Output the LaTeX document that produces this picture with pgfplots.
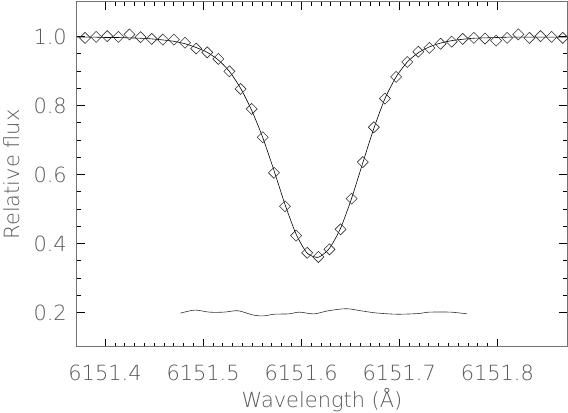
\documentclass[border=0pt]{standalone}
\usepackage{pgfplots}
\pgfplotsset{compat=1.18}
\usepackage{fontspec}
\setmainfont{DejaVu Sans ExtraLight}
\usepackage{pgfplotstable}

% observed spectrum (diamonds)
\pgfplotstableread{
x y
6151.3796 0.996
6151.3909 0.999
6151.4022 1.001
6151.4136 0.999
6151.4249 1.006
6151.4362 0.998
6151.4476 0.993
6151.4589 0.991
6151.4702 0.991
6151.4815 0.982
6151.4929 0.965
6151.5042 0.954
6151.5155 0.935
6151.5268 0.899
6151.5382 0.848
6151.5495 0.790
6151.5608 0.708
6151.5722 0.605
6151.5835 0.508
6151.5948 0.423
6151.6061 0.373
6151.6175 0.361
6151.6288 0.383
6151.6401 0.441
6151.6514 0.530
6151.6628 0.636
6151.6741 0.737
6151.6854 0.820
6151.6968 0.883
6151.7081 0.926
6151.7194 0.956
6151.7307 0.967
6151.7421 0.979
6151.7534 0.985
6151.7647 0.993
6151.7760 0.996
6151.7874 0.994
6151.7987 0.988
6151.8100 0.996
6151.8214 1.006
6151.8327 0.996
6151.8440 1.001
6151.8553 0.999
6151.8667 0.996
}\obs

% synthetic fit (line)
\pgfplotstableread{
x y
6151.3714 0.998
6151.3796 0.998
6151.3909 0.998
6151.4022 0.997
6151.4136 0.997
6151.4249 0.996
6151.4362 0.995
6151.4476 0.993
6151.4589 0.990
6151.4702 0.986
6151.4815 0.979
6151.4929 0.968
6151.5042 0.954
6151.5155 0.932
6151.5268 0.899
6151.5382 0.850
6151.5495 0.786
6151.5608 0.707
6151.5722 0.612
6151.5835 0.513
6151.5948 0.427
6151.6061 0.372
6151.6175 0.360
6151.6288 0.386
6151.6401 0.444
6151.6514 0.531
6151.6628 0.634
6151.6741 0.734
6151.6854 0.820
6151.6968 0.883
6151.7081 0.926
6151.7194 0.953
6151.7307 0.970
6151.7421 0.981
6151.7534 0.988
6151.7647 0.992
6151.7760 0.995
6151.7874 0.996
6151.7987 0.997
6151.8100 0.998
6151.8440 0.998
6151.8710 0.998
}\fit

% residuals (shifted to 0.2)
\pgfplotstableread{
x y
6151.4768 0.198
6151.4915 0.207
6151.5063 0.201
6151.5210 0.201
6151.5357 0.205
6151.5504 0.193
6151.5614 0.190
6151.5724 0.195
6151.5871 0.196
6151.5982 0.201
6151.6129 0.196
6151.6276 0.205
6151.6460 0.211
6151.6607 0.205
6151.6754 0.199
6151.6974 0.195
6151.7195 0.197
6151.7305 0.201
6151.7526 0.201
6151.7691 0.196
}\resid

\begin{document}
\begin{tikzpicture}
\begin{axis}[
    name=ax,
    width=490bp, height=345bp, scale only axis,
    xmin=6151.3714, xmax=6151.871,
    ymin=0.1, ymax=1.1,
    xtick={6151.4,6151.5,6151.6,6151.7,6151.8},
    ytick={0.2,0.4,0.6,0.8,1.0},
    minor x tick num=9,
    minor y tick num=3,
    tick align=inside,
    major tick length=8bp, minor tick length=4bp,
    tick style={black, line width=0.5bp},
    axis line style={black!55, line width=1bp},
    /pgf/number format/assume math mode=true,
    x tick label style={/pgf/number format/fixed, /pgf/number format/precision=1, /pgf/number format/1000 sep={}},
    y tick label style={/pgf/number format/fixed, /pgf/number format/zerofill, /pgf/number format/precision=1},
    every tick label/.append style={font=\fontsize{21}{25}\selectfont, text=black!65},
    xticklabel style={anchor=base, yshift=-33.5bp},
    yticklabel style={anchor=east, inner sep=0pt, xshift=-10bp},
    xlabel={Wavelength (Å)},
    ylabel={Relative flux},
    label style={font=\fontsize{21}{25}\selectfont, text=black!65},
    xlabel style={at={(axis description cs:0.5,-0.1536)}, anchor=center},
    ylabel style={at={(axis description cs:-0.1327,0.5)}, anchor=center},
]
\addplot[black, line width=0.6bp, smooth, tension=0.4] table {\fit};
\addplot[black!80, line width=0.6bp, only marks, mark=square,
    mark size=3.9bp, mark options={rotate=45, line width=0.6bp}] table {\obs};
\addplot[black!80, line width=0.6bp, smooth] table {\resid};
\end{axis}
\pgfresetboundingbox
\path ([xshift=-77bp,yshift=-66bp]ax.south west) rectangle ([xshift=1bp,yshift=2bp]ax.north east);
\end{tikzpicture}
\end{document}
